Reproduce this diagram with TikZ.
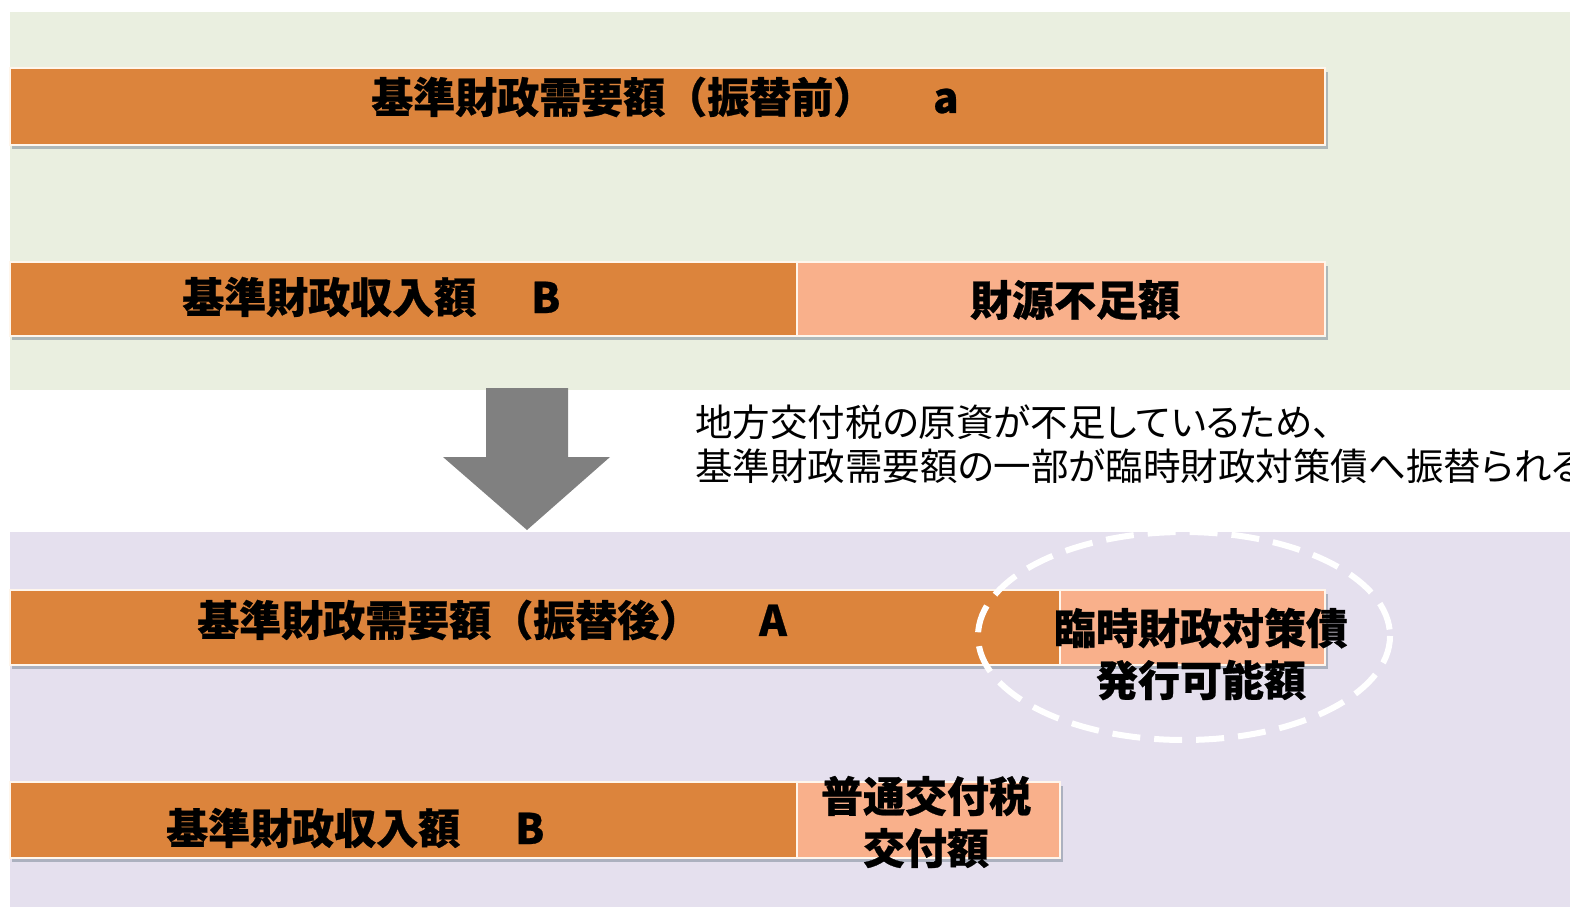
\documentclass[tikz,border=0pt]{standalone}
\usepackage{fontspec}
\newfontfamily\jp{Noto Sans CJK JP}[BoldFeatures={FakeBold=0.6}]
\newfontfamily\jpd{Noto Sans CJK JP}[RawFeature=+palt]
\definecolor{panelG}{HTML}{EAEFE0}
\definecolor{panelP}{HTML}{E5E0EE}
\definecolor{barD}{HTML}{DC843C}
\definecolor{barL}{HTML}{F9B08B}
\definecolor{arrowG}{HTML}{808080}
\definecolor{shadowC}{HTML}{7E8C99}
\definecolor{edgeC}{HTML}{FFF6EC}
\tikzset{
  darkbar/.style={fill=barD, draw=edgeC, line width=1.6pt},
  lightbar/.style={fill=barL, draw=edgeC, line width=1.6pt},
  barshadow/.style={fill=shadowC, opacity=0.55},
  bartext/.style={font=\jp\bfseries\fontsize{42}{50}\selectfont, inner sep=0pt, text=black},
  cuttext/.style={bartext, align=center, font=\jp\bfseries\fontsize{42}{52}\selectfont},
  desctext/.style={font=\jpd\fontsize{37.5}{44}\selectfont, inner sep=0pt, anchor=west},
  ringdash/.style={draw=white, line width=6pt, dash pattern=on 28pt off 14pt}
}
\begin{document}
\begin{tikzpicture}[x=1pt,y=-1pt]
\useasboundingbox (0,0) rectangle (1570,907);
\fill[white] (0,0) rectangle (1570,907);
% panels
\fill[panelG] (10,12) rectangle (1570,390);
\fill[panelP] (10,532) rectangle (1570,907);
% shadows
\fill[barshadow] (12,72) rectangle (1328,149);
\fill[barshadow] (12,266) rectangle (1328,340);
\fill[barshadow] (12,594) rectangle (1328,669);
\fill[barshadow] (12,786) rectangle (1063,862);
% bars
\path[darkbar] (10,68) rectangle (1325,145);
\path[darkbar] (10,262) rectangle (797,336);
\path[lightbar] (797,262) rectangle (1325,336);
\path[darkbar] (10,590) rectangle (1060,665);
\path[lightbar] (1060,590) rectangle (1325,665);
\path[darkbar] (10,782) rectangle (797,858);
\path[lightbar] (797,782) rectangle (1060,858);
% arrow
\fill[arrowG] (486,388) -- (568,388) -- (568,457) -- (610,457) -- (527,530) -- (443,457) -- (486,457) -- cycle;
% dashed ring
\draw[ringdash] (1184,636) ellipse [x radius=206, y radius=104];
% texts
\node[bartext, anchor=west] (need1) at (371,97) {基準財政需要額（振替前）\hspace{58pt}a};
\node[bartext, anchor=west] (rev1) at (182,297) {基準財政収入額\hspace{55pt}B};
\node[bartext] (gap1) at (1075,300) {財源不足額};
\node[desctext] (desc1) at (695,422) {地方交付税の原資が不足しているため、};
\node[desctext] (desc2) at (695,466) {基準財政需要額の一部が臨時財政対策債へ振替られる};
\node[bartext, anchor=west] (need2) at (197,620) {基準財政需要額（振替後）\hspace{58pt}A};
\node[cuttext] (bond) at (1201,654) {臨時財政対策債\\発行可能額};
\node[bartext, anchor=west] (rev2) at (166,828) {基準財政収入額\hspace{55pt}B};
\node[cuttext] (grant) at (926,822) {普通交付税\\交付額};
\end{tikzpicture}
\end{document}
